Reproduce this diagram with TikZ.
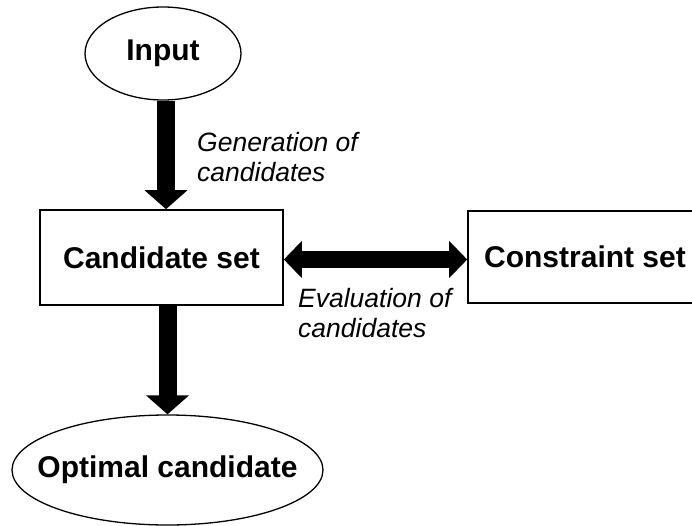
\documentclass[tikz,border=0pt]{standalone}
\usepackage{fontspec}
\setmainfont{Liberation Sans}
\usetikzlibrary{arrows.meta,shapes.geometric}
\begin{document}
\begin{tikzpicture}[x=1pt,y=-1pt]
        \tikzstyle{oval}=[ellipse,draw,line width=1.3pt,inner sep=0pt,font=\bfseries\fontsize{30}{36}\selectfont]
        \tikzstyle{box}=[rectangle,draw,line width=1.6pt,inner sep=0pt,font=\bfseries\fontsize{30}{36}\selectfont]
        \tikzstyle{fat}=[line width=18pt,-{Triangle[length=19pt,width=42pt]}]
        \tikzstyle{note}=[anchor=north west,align=left,inner sep=0pt,font=\itshape\fontsize{26.5}{30}\selectfont]
        \useasboundingbox (0,0) rectangle (692,526);
       \begin{scope}
         \node [oval,minimum width=156pt,minimum height=93pt] (in) at (163,53.5) {Input};
         \node [box,minimum width=243pt,minimum height=95pt] (cand) at (161.5,257.5) {Candidate set};
         \node [box,minimum width=234pt,minimum height=92pt] (cons) at (585,257) {Constraint set};
         \node [oval,inner xsep=-30pt,minimum width=311pt,minimum height=110pt] (opt) at (167.5,470) {Optimal candidate};
         \draw [fat] ([xshift=3pt]in.south) -- ([xshift=3pt]in.south |- cand.north);
         \draw [fat] (cand.south -| opt.north) -- (opt.north);
         \draw [line width=16pt,{Triangle[length=18pt,width=36pt]}-{Triangle[length=18pt,width=36pt]}]
               ([yshift=-2pt]cand.east) -- ([yshift=-2pt]cand.east -| cons.west);
         \node [note] (gen) at (197,132) {Generation of\\candidates};
         \node [note] (eval) at (298,288) {Evaluation of\\candidates};
        \end{scope}
      \end{tikzpicture}
\end{document}
